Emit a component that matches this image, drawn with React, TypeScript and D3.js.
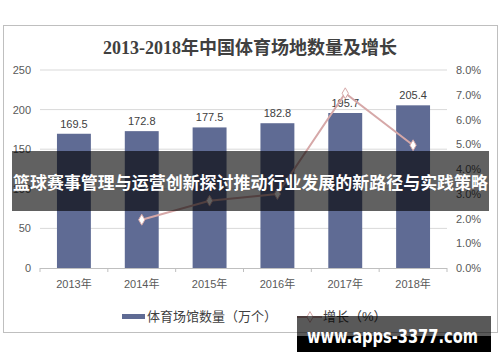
import React from 'react'
import * as d3 from 'd3'

const width = 500
const height = 362
const plot = { left: 40, right: 447, top: 70, bottom: 268 }

// data
const years = ['2013年', '2014年', '2015年', '2016年', '2017年', '2018年']
const venues = [169.5, 172.8, 177.5, 182.8, 195.7, 205.4]
const growthYears = ['2014年', '2015年', '2016年', '2017年', '2018年']
const growth = [0.0195, 0.0272, 0.0299, 0.0706, 0.0496]
const leftTicks = [0, 50, 100, 150, 200, 250]
const rightTicks = [0, 0.01, 0.02, 0.03, 0.04, 0.05, 0.06, 0.07, 0.08]

const title = '2013-2018年中国体育场地数量及增长'
const banner = '篮球赛事管理与运营创新探讨推动行业发展的新路径与实践策略'
const watermark = 'www.apps-3377.com'

const barColor = '#5f6b94'
const lineColor = '#d6a8a8'
const sans = "'Liberation Sans', Arial, 'Noto Sans CJK SC', sans-serif"

export default function App() {
  const x = d3.scaleBand<string>().domain(years).range([plot.left, plot.right])
    .paddingInner(0.5).paddingOuter(0.25)
  const yL = d3.scaleLinear().domain([0, 250]).range([plot.bottom, plot.top])
  const yR = d3.scaleLinear().domain([0, 0.08]).range([plot.bottom, plot.top])
  const cx = (d: string) => (x(d) ?? 0) + x.bandwidth() / 2
  const pct = d3.format('.1%')

  const line = d3.line<number>()
    .x((_, i) => cx(growthYears[i]))
    .y(d => yR(d))
  const diamond = d3.symbol().type(d3.symbolDiamond).size(34)
  const step = x.step()

  return (
    <svg width={width} height={height} style={{ position: 'absolute', left: 0, top: 0, background: '#fff' }}>
      <rect x={3.5} y={25.5} width={494} height={307} fill="#fff" stroke="#bfbfbf" />
      <text x={250} y={54} textAnchor="middle" fontSize={18} fontWeight="bold" fill="#404040"
        fontFamily="'Liberation Serif', 'Noto Sans CJK SC', serif">{title}</text>

      {/* grid + left axis */}
      {leftTicks.map(t => (
        <g key={t}>
          {t > 0 && <line x1={plot.left} x2={plot.right} y1={yL(t)} y2={yL(t)} stroke="#d9d9d9" />}
          <text x={31} y={yL(t) + 4} textAnchor="end" fontSize={11} fill="#595959" fontFamily={sans}>{t}</text>
        </g>
      ))}
      {rightTicks.map(t => (
        <text key={t} x={456} y={yR(t) + 4} fontSize={11} fill="#595959" fontFamily={sans}>{pct(t)}</text>
      ))}

      {/* bars */}
      {years.map((d, i) => (
        <g key={d}>
          <rect x={x(d)} y={yL(venues[i])} width={x.bandwidth()} height={plot.bottom - yL(venues[i])} fill={barColor} />
          <text x={cx(d)} y={yL(venues[i]) - 6} textAnchor="middle" fontSize={11} fill="#404040" fontFamily={sans}>{venues[i]}</text>
          <text x={cx(d)} y={288} textAnchor="middle" fontSize={11} fill="#595959" fontFamily={sans}>{d}</text>
        </g>
      ))}

      {/* x axis */}
      <line x1={plot.left} x2={plot.right} y1={plot.bottom + 0.5} y2={plot.bottom + 0.5} stroke="#bfbfbf" />
      {d3.range(years.length + 1).map(i => (
        <line key={i} x1={plot.left + i * step} x2={plot.left + i * step} y1={plot.bottom} y2={plot.bottom + 4} stroke="#bfbfbf" />
      ))}

      {/* growth line */}
      <path d={line(growth) ?? ''} fill="none" stroke={lineColor} strokeWidth={2} />
      {growth.map((g, i) => (
        <path key={i} d={diamond() ?? ''} transform={`translate(${cx(growthYears[i])},${yR(g)})`}
          fill="#fff" stroke={lineColor} strokeWidth={1} />
      ))}

      {/* legend */}
      <rect x={122} y={314} width={23} height={5} fill={barColor} />
      <text x={147} y={321} fontSize={13} fill="#404040" fontFamily={sans}>体育场馆数量（万个）</text>
      <line x1={297} x2={322} y1={317} y2={317} stroke={lineColor} strokeWidth={2} />
      <path d={diamond() ?? ''} transform="translate(310,317)" fill="#fff" stroke={lineColor} />
      <text x={323} y={321} fontSize={13} fill="#404040" fontFamily={sans}>增长（%）</text>

      {/* overlay banner */}
      <rect x={12} y={151} width={477} height={60} fill="rgba(0,0,0,0.62)" />
      <text x={250.5} y={189} textAnchor="middle" fontSize={17} fontWeight="bold" fill="#fff"
        fontFamily="'Noto Sans CJK SC', sans-serif" textLength={475} lengthAdjust="spacingAndGlyphs">{banner}</text>

      {/* watermark */}
      <rect x={297} y={316} width={194} height={36} fill="rgba(0,0,0,0.65)" />
      <rect x={297} y={336} width={194} height={16} fill="#000" />
      <text x={307} y={343} fontSize={20} fontWeight="bold" fill="#fff"
        fontFamily="'DejaVu Sans', sans-serif" textLength={171} lengthAdjust="spacingAndGlyphs">{watermark}</text>
    </svg>
  )
}
